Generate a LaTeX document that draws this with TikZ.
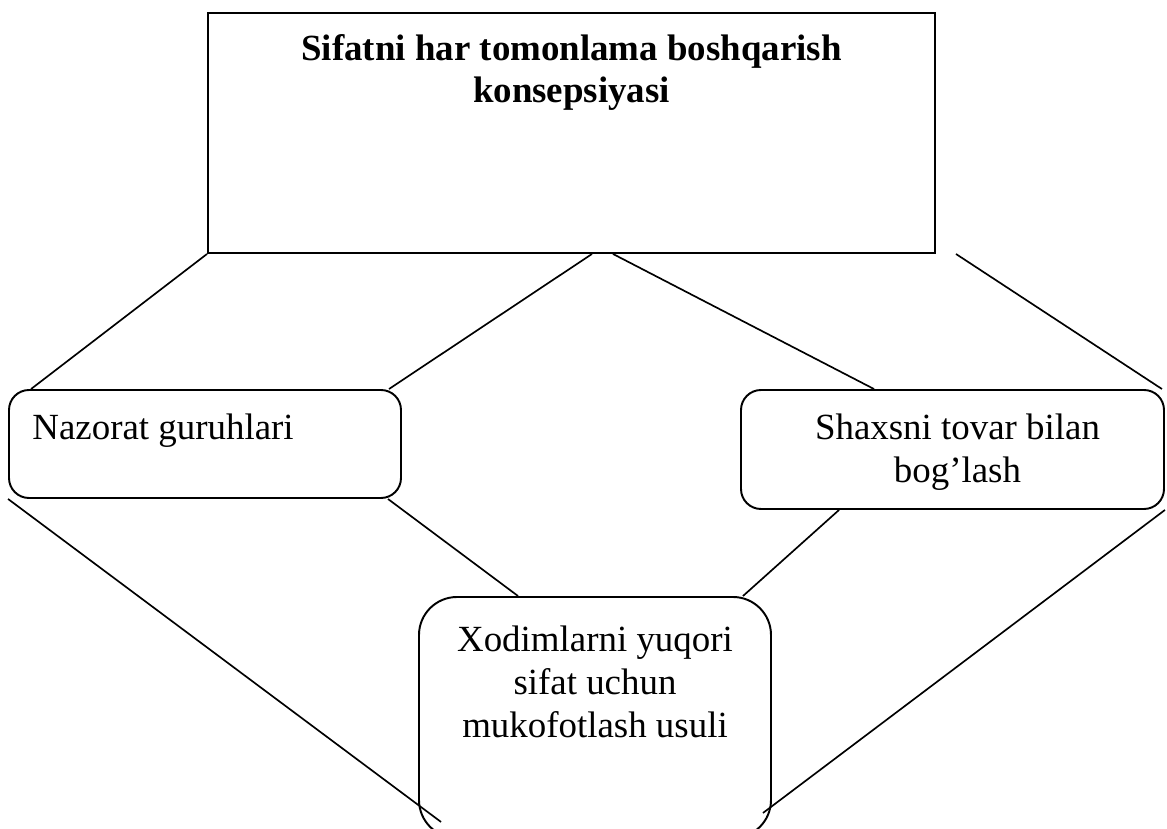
\documentclass[tikz,border=0pt]{standalone}
\usepackage{fontspec}
\setmainfont{Liberation Serif}
\usepackage{tikz}
\usetikzlibrary{positioning,calc}

\begin{document}
\begin{tikzpicture}[
  font=\fontsize{21}{24.2}\selectfont,
  node distance=0.5cm and 0.5cm,
  frame/.style={draw, line width=1.1pt, inner sep=0pt},
  card/.style={draw, line width=1.1pt, rounded corners=0.4cm, inner sep=0pt},
  caption/.style={inner sep=0pt, align=center},
  link/.style={line width=0.95pt},
]

% Canvas
\useasboundingbox (0,0) rectangle (23.34,-16.58);

% Concept box
\node[frame, minimum width=14.54cm, minimum height=4.8cm] (concept) at (11.43,-2.66) {};
\node[caption, font=\fontsize{21}{23.5}\selectfont\bfseries, below=0.45cm of concept.north] (conceptText)
  {Sifatni har tomonlama boshqarish\\konsepsiyasi};

% Three methods
\node[card, minimum width=7.84cm, minimum height=2.16cm] (ctrl) at (4.10,-8.88) {};
\node[caption, below right=0.5cm and 0.48cm of ctrl.north west] (ctrlText) {Nazorat guruhlari};

\node[card, minimum width=8.46cm, minimum height=2.38cm] (bind) at (19.05,-8.99) {};
\node[caption, below=0.5cm of bind.north, xshift=0.1cm] (bindText) {Shaxsni tovar bilan\\bog’lash};

\node[card, rounded corners=0.76cm, minimum width=7.04cm, minimum height=4.82cm] (reward) at (11.90,-14.35) {};
\node[caption, below=0.6cm of reward.north] (rewardText) {Xodimlarni yuqori\\sifat uchun\\mukofotlash usuli};

% Free end right of the concept box
\coordinate (gap) at ([xshift=0.4cm]concept.south east);

% Concept -> methods
\draw[link] (concept.south west) -- ([xshift=0.46cm]ctrl.north west);
\draw[link] ([xshift=0.41cm]concept.south) -- ([xshift=-0.26cm]ctrl.north east);
\draw[link] ([xshift=0.83cm]concept.south) -- ([xshift=2.68cm]bind.north west);
\draw[link] (gap) -- ([xshift=-0.06cm]bind.north east);

% Methods -> reward
\draw[link] ([xshift=-0.28cm]ctrl.south east) -- ([xshift=2.0cm]reward.north west);
\draw[link] ([xshift=1.98cm]bind.south west) -- ([xshift=-0.58cm]reward.north east);
\draw[link] (ctrl.south west) -- ([xshift=0.46cm,yshift=0.34cm]reward.south west);
\draw[link] (bind.south east) -- ([xshift=-0.18cm,yshift=0.52cm]reward.south east);

\end{tikzpicture}
\end{document}
